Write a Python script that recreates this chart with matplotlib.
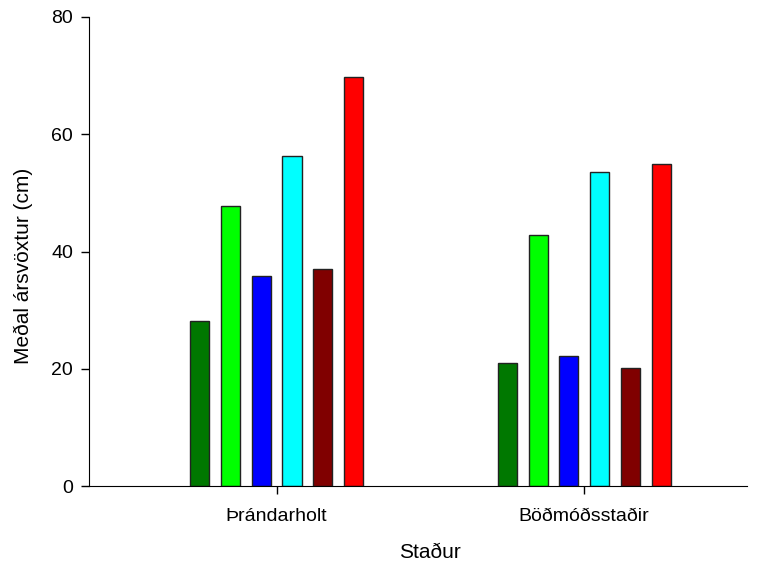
import numpy as np
import matplotlib
matplotlib.use("Agg")
import matplotlib.pyplot as plt

plt.rcParams["font.family"] = ["Liberation Sans", "DejaVu Sans"]

sites = ["Þrándarholt", "Böðmóðsstaðir"]
series_colors = ["#007800", "#00ff00", "#0000ff", "#00ffff", "#800000", "#ff0000"]
# one list per bar colour, values for each site
dark_green = [28.1, 20.9]
light_green = [47.8, 42.8]
blue = [35.9, 22.2]
cyan = [56.3, 53.6]
maroon = [37.1, 20.2]
red = [69.8, 54.9]
series = [dark_green, light_green, blue, cyan, maroon, red]

fig = plt.figure(figsize=(7.63, 5.66), dpi=100)
ax = fig.add_axes([0.1166, 0.1413, 0.979 - 0.1166, 0.97 - 0.1413])

x = np.arange(len(sites))
step, width = 0.1, 0.062
offsets = (np.arange(len(series)) - (len(series) - 1) / 2) * step
for off, vals, col in zip(offsets, series, series_colors):
    ax.bar(x + off, vals, width=width, color=col, edgecolor="#222222", linewidth=1.0, zorder=2)

ax.set_xlim(-0.61, 1.529)
ax.set_ylim(0, 80)
ax.set_yticks([0, 20, 40, 60, 80])
ax.set_xticks(x)
ax.set_xticklabels(sites)
ax.spines["top"].set_visible(False)
ax.spines["right"].set_visible(False)
ax.tick_params(direction="out", length=5.5, labelsize=14, width=1)
ax.tick_params(axis="x", pad=10)
ax.tick_params(axis="y", pad=6)
ax.set_xlabel("Staður", fontsize=15)
ax.set_ylabel("Meðal ársvöxtur (cm)", fontsize=15)
ax.xaxis.set_label_coords(0.518, -0.122)
ax.yaxis.set_label_coords(-0.085, 0.47)

fig.savefig("out.png", dpi=100)
